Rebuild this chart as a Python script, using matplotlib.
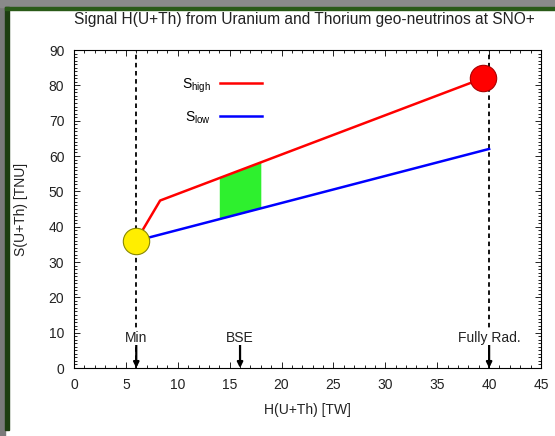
import matplotlib.pyplot as plt
from matplotlib.patches import Rectangle

plt.rcParams['font.family'] = ['Liberation Sans', 'DejaVu Sans']

# ---------------- data ----------------
h_high = [6, 8.3, 39.4]
s_high = [36, 47.4, 82]
h_low = [6, 40]
s_low = [36, 62]

# BSE band (green region between S_low and S_high)
band_h = [14, 18]
band_low = [42.1, 45.2]
band_high = [53.8, 58.3]

# points
min_point = (6, 36)
rad_point = (39.4, 82)

# vertical markers / arrows
vlines_h = [6, 40]
arrow_h = [6, 16, 40]
arrow_labels = ["Min", "BSE", "Fully Rad."]

title = "Signal H(U+Th) from Uranium and Thorium geo-neutrinos at SNO+"
TXT = "#222222"

# ---------------- figure ----------------
fig = plt.figure(figsize=(5.55, 4.36), dpi=100)

# window frame (grey + dark green border)
fig.patches.append(Rectangle((0, 0), 5 / 555, 1, transform=fig.transFigure,
                             color="#7a7a7a", zorder=-10))
fig.patches.append(Rectangle((0, 1 - 7 / 436), 1, 7 / 436, transform=fig.transFigure,
                             color="#8a8a8a", zorder=-10))
fig.patches.append(Rectangle((5 / 555, 6 / 436), 4 / 555, 1 - 13 / 436,
                             transform=fig.transFigure, color="#1d3d10", zorder=-9))
fig.patches.append(Rectangle((5 / 555, 1 - 10 / 436), 1, 3 / 436,
                             transform=fig.transFigure, color="#2a5a18", zorder=-9))

ax = fig.add_axes([74 / 555, 1 - 368 / 436, 467 / 555, 318 / 436])

ax.plot(h_high, s_high, color="#ff0000", lw=1.8, label=r"S$_{\mathregular{high}}$", zorder=3)
ax.plot(h_low, s_low, color="#0000ff", lw=1.8, label=r"S$_{\mathregular{low}}$", zorder=3)
ax.fill_between(band_h, band_low, band_high, color="#2ef02e", lw=0, zorder=2)

ax.plot(*min_point, "o", ms=19, mfc="#ffee00", mec="#888800", mew=0.8, zorder=5)
ax.plot(*rad_point, "o", ms=19, mfc="#ff0000", mec="#aa0000", mew=0.8, zorder=5)

for h in vlines_h:
    ax.axvline(h, color="black", lw=1.3, ls=(0, (2.5, 2)), zorder=1)

for h, lab in zip(arrow_h, arrow_labels):
    ax.annotate("", xy=(h, 0), xytext=(h, 6.8),
                arrowprops=dict(arrowstyle="-|>", color="black", lw=1.6,
                                mutation_scale=8, shrinkA=0, shrinkB=0), zorder=4)
    ax.text(h, 8.6, lab, ha="center", va="center", fontsize=10, color=TXT,
            bbox=dict(facecolor="white", edgecolor="none", pad=0.3), zorder=4)

ax.set_xlim(0, 45)
ax.set_ylim(0, 90)
ax.set_xticks(range(0, 46, 5))
ax.set_yticks(range(0, 91, 10))
ax.set_xticks(range(0, 46, 1), minor=True)
ax.set_yticks(range(0, 91, 1), minor=True)
ax.tick_params(which="both", direction="in", top=True, right=True,
               labelsize=10, labelcolor=TXT, width=0.6)
ax.tick_params(which="major", length=4, pad=7)
ax.tick_params(which="minor", length=2)
for sp in ax.spines.values():
    sp.set_linewidth(0.8)

ax.set_xlabel("H(U+Th) [TW]", fontsize=10, color=TXT)
ax.xaxis.set_label_coords(0.5, -0.11)
ax.set_ylabel("S(U+Th) [TNU]", fontsize=10, color=TXT)
ax.yaxis.set_label_coords(-0.098, 0.5)
ax.text(0.494, 1.095, title, transform=ax.transAxes, ha="center", va="center",
        fontsize=11.2, color=TXT)

ax.legend(loc="upper right", bbox_to_anchor=(0.4026, 0.917), frameon=False,
          markerfirst=False, fontsize=10, handlelength=3.0, handletextpad=0.65,
          labelspacing=1.05, borderpad=0, borderaxespad=0)

fig.savefig("out.png", dpi=100)
